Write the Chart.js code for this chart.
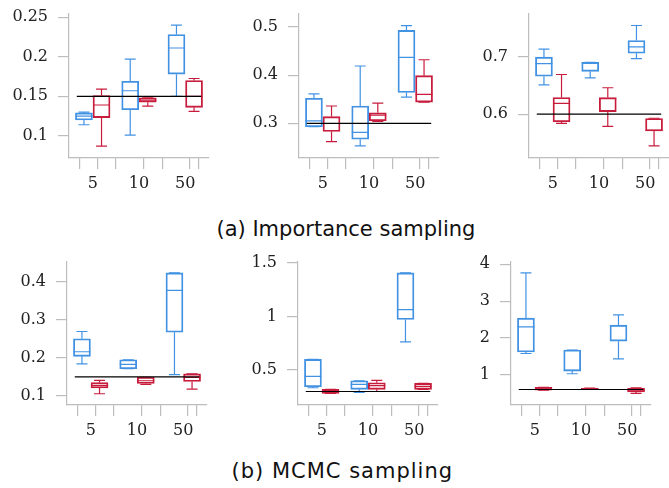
<!DOCTYPE html>
<html>
<head>
<meta charset="utf-8">
<script src="https://cdn.jsdelivr.net/npm/chart.js@4.4.1/dist/chart.umd.min.js"></script>
<style>
  html, body { margin: 0; padding: 0; background: #fff; width: 669px; height: 488px; overflow: hidden; }
  canvas { position: absolute; }
  .cap { position: absolute; font-family: "DejaVu Sans", sans-serif; font-size: 21px; color: #111; white-space: nowrap; line-height: 24px; }
</style>
</head>
<body>
<canvas id="a1"></canvas><canvas id="a2"></canvas><canvas id="a3"></canvas>
<canvas id="b1"></canvas><canvas id="b2"></canvas><canvas id="b3"></canvas>
<div class="cap" id="capA">(a) Importance sampling</div>
<div class="cap" id="capB" style="letter-spacing: 1px;">(b) MCMC sampling</div>
<script>
// number of samples per group
const cats = ['5', '10', '50'];

// five-number summaries [min, q1, median, q3, max] per category
// (a) importance sampling
const a1Blue = [[0.114, 0.120, 0.125, 0.129, 0.130], [0.101, 0.133, 0.157, 0.169, 0.197], [0.150, 0.178, 0.211, 0.228, 0.240]];
const a1Red  = [[0.087, 0.123, 0.139, 0.151, 0.159], [0.1375, 0.1425, 0.145, 0.148, 0.149], [0.131, 0.136, 0.150, 0.170, 0.1725]];
const a2Blue = [[0.293, 0.293, 0.305, 0.352, 0.361], [0.253, 0.267, 0.281, 0.336, 0.419], [0.3545, 0.364, 0.437, 0.493, 0.503]];
const a2Red  = [[0.262, 0.283, 0.312, 0.314, 0.336], [0.304, 0.3055, 0.317, 0.322, 0.342], [0.344, 0.344, 0.360, 0.399, 0.432]];
const a3Blue = [[0.651, 0.666, 0.688, 0.699, 0.713], [0.663, 0.6745, 0.689, 0.690, 0.690], [0.6965, 0.706, 0.717, 0.728, 0.754]];
const a3Red  = [[0.584, 0.587, 0.619, 0.629, 0.669], [0.579, 0.6045, 0.627, 0.629, 0.646], [0.545, 0.571, 0.572, 0.5925, 0.593]];
// (b) MCMC sampling
const b1Blue = [[0.184, 0.204, 0.216, 0.250, 0.269], [0.1715, 0.1715, 0.183, 0.195, 0.195], [0.156, 0.267, 0.3765, 0.4225, 0.4225]];
const b1Red  = [[0.106, 0.121, 0.127, 0.135, 0.141], [0.1305, 0.133, 0.140, 0.149, 0.149], [0.118, 0.138, 0.149, 0.158, 0.158]];
const b2Blue = [[0.335, 0.344, 0.441, 0.600, 0.600], [0.292, 0.320, 0.367, 0.400, 0.400], [0.764, 0.972, 1.065, 1.407, 1.407]];
const b2Red  = [[0.283, 0.283, 0.300, 0.320, 0.320], [0.300, 0.320, 0.354, 0.382, 0.404], [0.320, 0.320, 0.348, 0.376, 0.376]];
const b3Blue = [[1.578, 1.620, 2.301, 2.536, 3.765], [1.027, 1.100, 1.120, 1.670, 1.670], [1.434, 1.913, 2.337, 2.346, 2.627]];
const b3Red  = [[0.585, 0.585, 0.620, 0.660, 0.660], [0.615, 0.620, 0.625, 0.630, 0.635], [0.496, 0.531, 0.585, 0.630, 0.648]];

// reference (true) values
const refVals = [0.15, 0.3, 0.6, 0.15, 0.3, 0.6];
// y tick values per panel
const yTicksA1 = [0.1, 0.15, 0.2, 0.25];
const yTicksA2 = [0.3, 0.4, 0.5];
const yTicksA3 = [0.6, 0.7];
const yTicksB1 = [0.1, 0.2, 0.3, 0.4];
const yTicksB2 = [0.5, 1, 1.5];
const yTicksB3 = [1, 2, 3, 4];

const BLUE = 'rgb(66,146,228)';
const RED = 'rgb(200,28,60)';
const GRAY = '#bdbdbd';
const OFF = 0.19;      // offset of the two boxes from the category centre
const X_MIN = 0.655, X_MAX = 3.345;
const BOX_W = 17, CAP_HALF = 5.5;

const whiskers = {
  id: 'whiskers',
  beforeDatasetsDraw(chart) {
    const { ctx, scales: { x, y } } = chart;
    chart.data.datasets.forEach(ds => {
      if (!ds.stats) return;
      ctx.save();
      ctx.strokeStyle = ds.borderColor;
      ctx.lineWidth = 1.2;
      ctx.beginPath();
      ds.stats.forEach((s, i) => {
        const px = x.getPixelForValue(ds.data[i].x);
        const [mn, q1, md, q3, mx] = s.map(v => y.getPixelForValue(v));
        ctx.moveTo(px, q3); ctx.lineTo(px, mx);
        ctx.moveTo(px, q1); ctx.lineTo(px, mn);
        ctx.moveTo(px - CAP_HALF, mx); ctx.lineTo(px + CAP_HALF, mx);
        ctx.moveTo(px - CAP_HALF, mn); ctx.lineTo(px + CAP_HALF, mn);
        ctx.moveTo(px - BOX_W / 2, md); ctx.lineTo(px + BOX_W / 2, md);
      });
      ctx.stroke();
      ctx.restore();
    });
  }
};

function boxSet(stats, side, color) {
  return {
    type: 'bar',
    data: stats.map((s, i) => ({ x: i + 1 + side * OFF, y: [s[1], s[3]] })),
    stats: stats,
    borderColor: color,
    backgroundColor: 'rgba(0,0,0,0)',
    borderWidth: 1.2,
    borderSkipped: false,
    barThickness: BOX_W,
    grouped: false,
    order: 2
  };
}

const xTickVals = [];
const xTickLabels = [];
cats.forEach((c, i) => {
  xTickVals.push(i + 1 - OFF, i + 1, i + 1 + OFF);
  xTickLabels.push('', c, '');
});

const tickFont = { family: "'DejaVu Serif', serif", size: 16 };

function makePanel(id, left, top, h, padR, blue, red, ref, yMin, yMax, yTicks) {
  const cv = document.getElementById(id);
  const W = 60 + 140 + padR, H = 10 + h + 44;
  cv.width = W; cv.height = H;
  cv.style.left = (left - 60) + 'px';
  cv.style.top = (top - 10) + 'px';
  new Chart(cv, {
    type: 'bar',
    data: {
      datasets: [
        { type: 'line', data: [{ x: X_MIN, y: ref }, { x: X_MAX, y: ref }], borderColor: '#000', borderWidth: 1.2, pointRadius: 0, order: 0 },
        boxSet(blue, -1, BLUE),
        boxSet(red, 1, RED)
      ]
    },
    options: {
      responsive: false,
      animation: false,
      layout: { padding: { top: 10, right: padR, left: 0, bottom: 0 } },
      plugins: { legend: { display: false }, tooltip: { enabled: false } },
      scales: {
        x: {
          type: 'linear', min: X_MIN, max: X_MAX,
          afterBuildTicks: s => { s.ticks = xTickVals.map(v => ({ value: v })); },
          afterFit: s => { s.height = 44; s.paddingLeft = 0; s.paddingRight = 0; },
          border: { color: GRAY, width: 1.2 },
          grid: {
            drawOnChartArea: false, tickLength: 11, lineWidth: 1.2,
            color: c => (c.index % 3 === 1 ? 'rgba(0,0,0,0)' : GRAY)
          },
          ticks: { autoSkip: false, maxRotation: 0, padding: 5, color: '#222', font: tickFont,
                   callback: (v, i) => xTickLabels[i] }
        },
        y: {
          min: yMin, max: yMax,
          afterBuildTicks: s => { s.ticks = yTicks.map(v => ({ value: v })); },
          afterFit: s => { s.width = 60; s.paddingTop = 0; s.paddingBottom = 0; },
          border: { color: GRAY, width: 1.2 },
          grid: { drawOnChartArea: false, tickLength: 11, lineWidth: 1.2, color: GRAY },
          ticks: { padding: 10, color: '#222', font: tickFont, callback: v => String(v) }
        }
      }
    },
    plugins: [whiskers]
  });
}

makePanel('a1', 69, 14, 144, 4, a1Blue, a1Red, refVals[0], 0.072, 0.254, yTicksA1);
makePanel('a2', 299, 14, 144, 4, a2Blue, a2Red, refVals[1], 0.228, 0.527, yTicksA2);
makePanel('a3', 529, 14, 144, 0, a3Blue, a3Red, refVals[2], 0.524, 0.774, yTicksA3);
makePanel('b1', 67, 262, 143, 4, b1Blue, b1Red, refVals[3], 0.0765, 0.451, yTicksB1);
makePanel('b2', 298, 262, 143, 4, b2Blue, b2Red, refVals[4], 0.174, 1.509, yTicksB2);
makePanel('b3', 511, 262, 143, 4, b3Blue, b3Red, refVals[5], 0.179, 4.062, yTicksB3);

function placeCap(id, cx, top) {
  const el = document.getElementById(id);
  el.style.top = top + 'px';
  el.style.left = (cx - el.offsetWidth / 2) + 'px';
}
placeCap('capA', 346, 217);
placeCap('capB', 342.5, 459);
</script>
</body>
</html>
